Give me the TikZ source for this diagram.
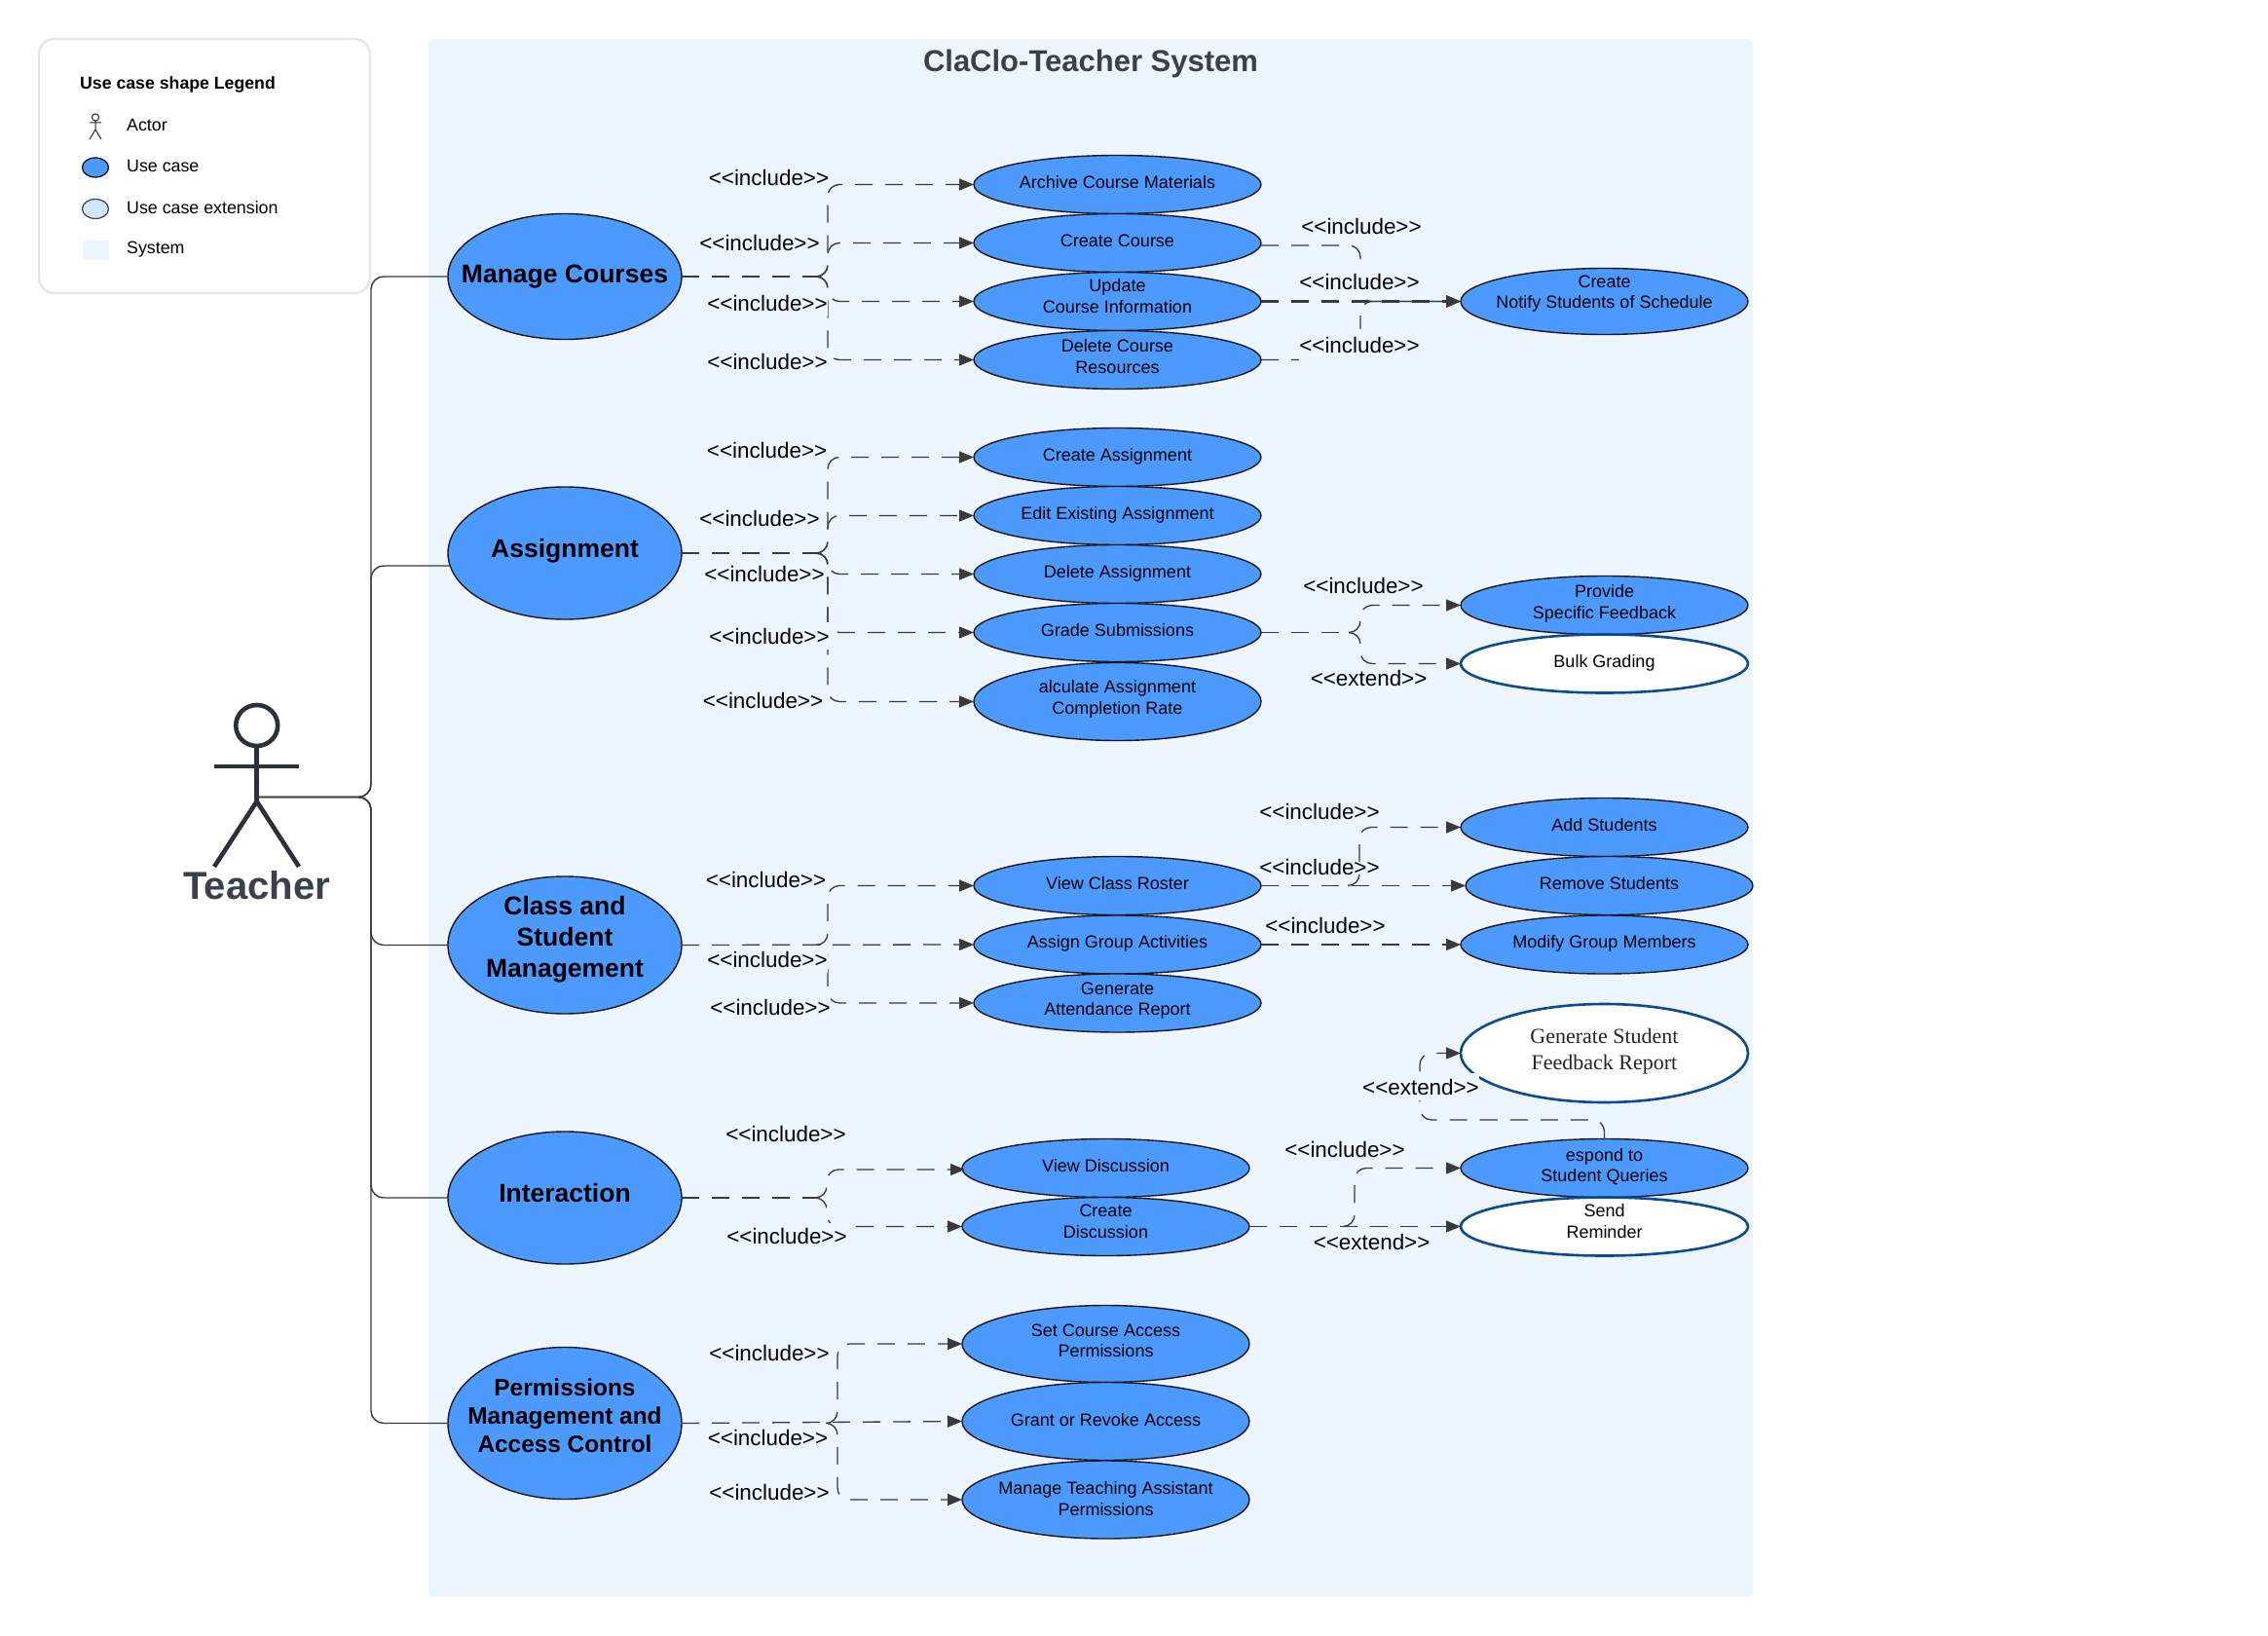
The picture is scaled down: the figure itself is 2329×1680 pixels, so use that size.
\documentclass[tikz,border=0pt]{standalone}
\usepackage{fontspec}
\setmainfont{Liberation Sans}
\newfontfamily\serifface{Liberation Serif}
\usetikzlibrary{shapes.geometric,arrows.meta}
\definecolor{sysfill}{HTML}{EDF5FF}
\definecolor{ucblue}{HTML}{4C9AFF}
\definecolor{extblue}{HTML}{0B4A94}
\definecolor{inkdark}{HTML}{3A414A}
\definecolor{linedark}{HTML}{3A3A3A}
\definecolor{actorink}{HTML}{2B303A}
\definecolor{legendedge}{HTML}{E3E6EC}
\newcommand\inctxt{<{}<include>{}>}
\newcommand\exttxt{<{}<extend>{}>}
% name, cx, cy, rx, ry, style, text y, font, text
\newcommand\ucnode[9]{%
  \node[#6,minimum width={2*#4*1pt},minimum height={2*#5*1pt},
    label={[name=#1-t,align=center,inner sep=0pt,yshift={(#3-#7)*1pt},#8]center:#9}] (#1) at (#2,#3) {};}
\newcommand\lblnode[5][]{\node[lbl,#1] (#2) at (#3,#4) {#5};}
\tikzset{
  usecase/.style={ellipse,draw=black!90,fill=ucblue,line width=1.4pt,inner sep=0pt,outer sep=0pt},
  extcase/.style={ellipse,draw=extblue,fill=white,line width=2.6pt,inner sep=0pt,outer sep=0pt},
  smalltxt/.style={font=\fontsize{18}{21.5}\selectfont,text=black},
  bigtxt/.style={font=\bfseries\fontsize{26.5}{32}\selectfont,text=black},
  bigtight/.style={font=\bfseries\fontsize{24.4}{29}\selectfont,text=black},
  serifftxt/.style={font=\serifface\fontsize{22}{26.7}\selectfont,text=black!85},
  stem/.style={draw=linedark,line width=1.3pt,dash pattern=on 18pt off 13pt},
  conn/.style={stem,rounded corners=12pt,-{Triangle[length=15pt,width=12pt]}},
  thickconn/.style={conn,line width=3pt},
  assoc/.style={draw=linedark,line width=1.4pt,rounded corners=13pt},
  lbl/.style={fill=sysfill,inner sep=0pt,minimum height=28pt,font=\fontsize{22.4}{26}\selectfont,text=black},
  legtxt/.style={anchor=west,inner sep=0pt,font=\fontsize{17.8}{20}\selectfont,text=black},
  figure/.style={draw=actorink,line width=4.6pt},
  minifig/.style={draw=black!85,line width=1pt},
}
\begin{document}
\begin{tikzpicture}[x=1pt,y=-1pt]
\useasboundingbox (0,0) rectangle (2329,1680);
\fill[white] (0,0) rectangle (2329,1680);
% system
\fill[sysfill,rounded corners=6pt] (440,40) rectangle (1800,1640);
\node[font=\bfseries\fontsize{31}{36}\selectfont,text=inkdark,inner sep=0pt] (systitle) at (1120,65) {ClaClo-Teacher System};
% legend
\draw[legendedge,line width=2.4pt,fill=white,rounded corners=16pt] (40,40) rectangle (380,301);
\node[legtxt,font=\bfseries\fontsize{17.7}{20}\selectfont] (legtitle) at (82,87) {Use case shape Legend};
\draw[minifig] (98,120.5) ellipse (3.6 and 3.6);
\draw[minifig] (98,124) -- (98,133) (92,126) -- (104,126) (92,143) -- (98,133) -- (104,143);
\node[legtxt] (legactor) at (130,128) {Actor};
\draw[black,line width=1.2pt,fill=ucblue] (98,172) ellipse (13.5 and 10);
\node[legtxt] (leguc) at (130,170.5) {Use case};
\draw[inkdark,line width=1.2pt,fill=ucblue!25!white] (98,214.5) ellipse (13.5 and 10);
\node[legtxt] (legext) at (130,213) {Use case extension};
\fill[sysfill] (85,247) rectangle (112,267);
\node[legtxt] (legsys) at (130,256) {System};
% actor
\draw[figure] (263.7,745) ellipse (21.5 and 21);
\draw[figure] (263.7,766) -- (263.7,823) (220,787) -- (307,787);
\draw[figure] (220,890) -- (263.7,823) -- (307,890);
\coordinate (hub) at (265,818.5);
\node[font=\bfseries\fontsize{40}{46}\selectfont,text=inkdark,inner sep=0pt] (teacher) at (263.7,909.5) {Teacher};
% main use cases
\ucnode{mc}{580}{284}{120}{64.5}{usecase}{284}{bigtxt}{Manage Courses}
\ucnode{as}{580}{568}{120}{68}{usecase}{566}{bigtxt}{Assignment}
\ucnode{cl}{580}{970.5}{120}{70.5}{usecase}{965}{bigtxt}{Class and\\Student\\Management}
\ucnode{in}{580}{1230}{120}{68}{usecase}{1225}{bigtxt}{Interaction}
\ucnode{pm}{580}{1461.5}{120}{78}{usecase}{1454}{bigtight}{Permissions\\Management and\\Access Control}
% sub use cases
\ucnode{arch}{1147.5}{189.5}{147.5}{30}{usecase}{187.5}{smalltxt}{Archive Course Materials}
\ucnode{cc}{1147.5}{249.5}{147.5}{30}{usecase}{247.3}{smalltxt}{Create Course}
\ucnode{upd}{1147.5}{309.5}{147.5}{30}{usecase}{304}{smalltxt}{Update\\Course Information}
\ucnode{delc}{1147.5}{369.5}{147.5}{30}{usecase}{366}{smalltxt}{Delete Course\\Resources}
\ucnode{noti}{1647.5}{309.5}{147.5}{34}{usecase}{301.5}{smalltxt}{Create\\Notify Students of Schedule}
\ucnode{cas}{1147.5}{469.5}{147.5}{30}{usecase}{469}{smalltxt}{Create Assignment}
\ucnode{eas}{1147.5}{529.5}{147.5}{30}{usecase}{529}{smalltxt}{Edit Existing Assignment}
\ucnode{das}{1147.5}{589.5}{147.5}{30}{usecase}{589}{smalltxt}{Delete Assignment}
\ucnode{grs}{1147.5}{649.5}{147.5}{30}{usecase}{647.3}{smalltxt}{Grade Submissions}
\ucnode{calc}{1147.5}{720.5}{147.5}{40}{usecase}{718}{smalltxt}{alculate Assignment\\Completion Rate}
\ucnode{prov}{1647.5}{621.5}{147.5}{30}{usecase}{620}{smalltxt}{Provide\\Specific Feedback}
\ucnode{bulk}{1647.5}{681.5}{147.5}{30}{extcase}{680.5}{smalltxt}{Bulk Grading}
\ucnode{adds}{1647.5}{849.5}{147.5}{30}{usecase}{847.3}{smalltxt}{Add Students}
\ucnode{rems}{1652.5}{909.5}{147.5}{30}{usecase}{907.3}{smalltxt}{Remove Students}
\ucnode{modg}{1647.5}{970}{147.5}{30}{usecase}{968.5}{smalltxt}{Modify Group Members}
\ucnode{rost}{1147.5}{909.5}{147.5}{30}{usecase}{907.3}{smalltxt}{View Class Roster}
\ucnode{agrp}{1147.5}{970}{147.5}{30}{usecase}{968.5}{smalltxt}{Assign Group Activities}
\ucnode{gatt}{1147.5}{1030}{147.5}{30}{usecase}{1027.5}{smalltxt}{Generate\\Attendance Report}
\ucnode{gfbk}{1647.5}{1081.5}{147.5}{50.5}{extcase}{1080}{serifftxt}{Generate Student\\Feedback Report}
\ucnode{resp}{1647.5}{1199.5}{147.5}{30}{usecase}{1198}{smalltxt}{espond to\\Student Queries}
\ucnode{send}{1647.5}{1259.5}{147.5}{30}{extcase}{1254}{smalltxt}{Send\\Reminder}
\ucnode{vdis}{1135.5}{1199.5}{147.5}{30}{usecase}{1197.3}{smalltxt}{View Discussion}
\ucnode{cdis}{1135.5}{1259.5}{147.5}{30}{usecase}{1254.5}{smalltxt}{Create\\Discussion}
\ucnode{sett}{1135.5}{1380}{147.5}{39.5}{usecase}{1377}{smalltxt}{Set Course Access\\Permissions}
\ucnode{gran}{1135.5}{1459.5}{147.5}{40}{usecase}{1458.3}{smalltxt}{Grant or Revoke Access}
\ucnode{mta}{1135.5}{1540}{147.5}{40}{usecase}{1539.3}{smalltxt}{Manage Teaching Assistant\\Permissions}
% actor associations
\coordinate (asL) at (462.4,581);
\draw[assoc] (hub) -- (381,818.5) |- (mc.west);
\draw[assoc] (hub) -- (381,818.5) |- (asL);
\draw[assoc] (hub) -- (381,818.5) |- (cl.west);
\draw[assoc] (hub) -- (381,818.5) |- (in.west);
\draw[assoc] (hub) -- (381,818.5) |- (pm.west);
% junctions where a stem splits
\coordinate (jmc) at (838,284);
\coordinate (jas) at (838,568);
\coordinate (jcl) at (838,970.5);
\coordinate (jin) at (838,1230);
\coordinate (jpm) at (848,1461.5);
\coordinate (jgr) at (1385,649.5);
\coordinate (jro) at (1384,909.5);
\coordinate (jcd) at (1379,1259.5);
% manage courses
\draw[stem] (mc.east) -- (jmc);
\draw[conn] (jmc) -- (850,284) |- (arch.west);
\draw[conn] (jmc) -- (850,284) |- (cc.west);
\draw[conn] (jmc) -- (850,284) |- (upd.west);
\draw[conn] (jmc) -- (850,284) |- (delc.west);
\draw[conn] ([yshift=-2.5pt]cc.east) -- (1397,252) |- (noti.west);
\draw[conn] (delc.east) -- (1397,369.5) |- (noti.west);
\draw[thickconn] (upd.east) -- (noti.west);
% assignment
\draw[stem] (as.east) -- (jas);
\draw[conn] (jas) -- (850,568) |- (cas.west);
\draw[conn] (jas) -- (850,568) |- (eas.west);
\draw[conn] (jas) -- (850,568) |- (das.west);
\draw[conn] (jas) -- (850,568) |- (grs.west);
\draw[conn] (jas) -- (850,568) |- (calc.west);
\draw[stem] (grs.east) -- (jgr);
\draw[conn] (jgr) -- (1397,649.5) |- (prov.west);
\draw[conn] (jgr) -- (1397,649.5) |- (bulk.west);
% class
\draw[conn] (cl.east) -- (agrp.west);
\draw[conn] (jcl) -- (850,970.5) |- (rost.west);
\draw[conn] (jcl) -- (850,970.5) |- (gatt.west);
\draw[conn] (rost.east) -- (rems.west);
\draw[conn] (agrp.east) -- (modg.west);
% interaction
\draw[stem] (in.east) -- (jin);
\draw[conn] (jin) -- (849,1230) |- ([xshift=3pt,yshift=-1.5pt]vdis.west);
\draw[conn] (jin) -- (849,1230) |- (cdis.west);
\draw[conn] (cdis.east) -- (send.west);
\draw[conn] (jcd) -- (1391,1259.5) |- (resp.west);
\draw[conn] (resp.north) |- (1458,1150) -- (1458,1081.5) -- (gfbk.west);
% permissions
\draw[conn] (pm.east) -- (gran.west);
\draw[conn] (jpm) -- (860,1461.5) |- (sett.west);
\draw[conn] (jpm) -- (860,1461.5) |- (mta.west);
% labels
\lblnode{l1}{789.5}{182}{\inctxt}
\lblnode{l2}{780}{249.5}{\inctxt}
\lblnode{l3}{788}{311}{\inctxt}
\lblnode{l4}{788}{371.5}{\inctxt}
\lblnode{l5}{1398}{232}{\inctxt}
\lblnode{l6}{1396}{289}{\inctxt}
\lblnode[minimum height=34pt]{l7}{1396}{354.5}{\inctxt}
\lblnode{l8}{787.6}{462.7}{\inctxt}
\lblnode{l9}{780}{532}{\inctxt}
\lblnode{l10}{785}{589.5}{\inctxt}
\lblnode{l11}{790}{653}{\inctxt}
\lblnode{l12}{783.5}{719.5}{\inctxt}
\lblnode{l13}{1400}{601.7}{\inctxt}
\lblnode{l14}{1405.6}{696.5}{\exttxt}
\lblnode{l15}{1355}{833.5}{\inctxt}
\lblnode{l16}{1355}{890}{\inctxt}
\lblnode{l17}{1361}{950}{\inctxt}
\lblnode{l18}{786.5}{903.7}{\inctxt}
\lblnode{l19}{788}{985}{\inctxt}
\lblnode{l20}{791}{1034}{\inctxt}
\lblnode{l21}{807}{1164.5}{\inctxt}
\lblnode{l22}{808}{1269.5}{\inctxt}
\lblnode{l23}{1381}{1180}{\inctxt}
\lblnode{l24}{1408.6}{1275}{\exttxt}
\lblnode{l25}{1459}{1116}{\exttxt}
\lblnode{l26}{790}{1389.5}{\inctxt}
\lblnode{l27}{788.5}{1476}{\inctxt}
\lblnode{l28}{790}{1532}{\inctxt}
% this connector runs over its label
\draw[conn] (jro) -- (1396,909.5) |- (adds.west);
\end{tikzpicture}
\end{document}
